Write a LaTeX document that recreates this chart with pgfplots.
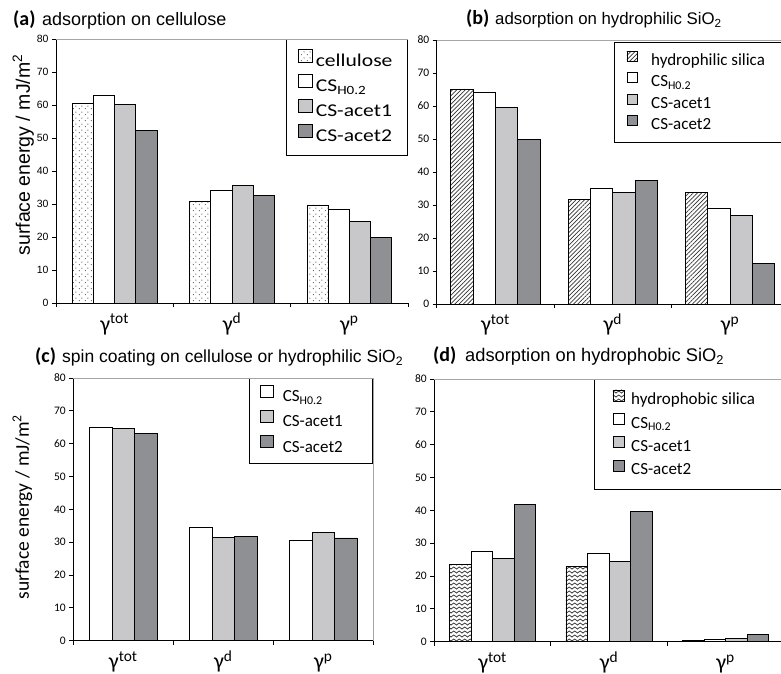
\documentclass[border=0pt]{standalone}
\usepackage{fontspec}
\setmainfont{Carlito}
\newfontfamily\arialf{Liberation Sans}
\newfontfamily\calw[FakeStretch=1.2]{Carlito}
\usepackage{pgfplots}
\pgfplotsset{compat=1.18}
\usetikzlibrary{patterns,patterns.meta}

\definecolor{lightbar}{RGB}{200,200,202}
\definecolor{darkbar}{RGB}{143,144,148}
\definecolor{framec}{RGB}{165,165,165}

\pgfdeclarepattern{
  name=sdots, type=uncolored,
  bottom left={\pgfpoint{0pt}{0pt}}, top right={\pgfpoint{6pt}{6pt}},
  tile size={\pgfpoint{6pt}{6pt}},
  code={\pgfpathcircle{\pgfpoint{1.5pt}{1.5pt}}{0.6pt}\pgfpathcircle{\pgfpoint{4.5pt}{4.5pt}}{0.6pt}\pgfusepath{fill}}
}
\pgfdeclarepattern{
  name=zigz, type=uncolored,
  bottom left={\pgfpoint{-0.6pt}{0pt}}, top right={\pgfpoint{6.1pt}{4pt}},
  tile size={\pgfpoint{5.5pt}{4pt}},
  code={\pgfsetlinewidth{0.75pt}\pgfsetroundcap\pgfsetroundjoin
    \pgfpathmoveto{\pgfpoint{0pt}{1pt}}\pgfpathlineto{\pgfpoint{2.75pt}{3pt}}\pgfpathlineto{\pgfpoint{5.5pt}{1pt}}\pgfusepath{stroke}}
}

\newcommand{\gl}[1]{\fontsize{22}{22}\selectfont γ\textsuperscript{#1}}

\pgfplotsset{
  panel/.style={
    scale only axis, ybar, ymin=0, ymax=80, xmin=-0.5, xmax=2.5, enlargelimits=false,
    axis x line*=bottom, axis y line*=left,
    axis line style={-, black, line width=0.8pt},
    ytick={0,10,...,80},
    xtick={-0.5,0.5,1.5,2.5}, xticklabels={,,,},
    extra x ticks={0,1,2},
    extra x tick labels={{\gl{tot}},{\gl{d}},{\gl{p}}},
    extra x tick style={major tick length=0pt},
    tick align=outside, major tick length=4pt,
    tick style={black, line width=0.8pt},
    xticklabel style={anchor=base, yshift=-28pt},
    /pgf/number format/assume math mode=true,
    yticklabel style={font=\fontsize{11.5}{11.5}\selectfont},
    clip=false, legend cell align=left,
  },
  bw/.style={draw=black, line width=0.8pt, fill=white},
  bl/.style={draw=black, line width=0.8pt, fill=lightbar},
  bd/.style={draw=black, line width=0.8pt, fill=darkbar},
}

\begin{document}
\begin{tikzpicture}
\path[use as bounding box, fill=white] (0pt,0pt) rectangle (781pt,674pt);

% titles
\node[anchor=base west, inner sep=0pt] at (13pt,648pt) {\fontsize{20}{20}\selectfont\bfseries (a)};
\node[anchor=base west, inner sep=0pt] at (42pt,648pt) {\arialf\fontsize{18}{20}\selectfont adsorption on cellulose};
\node[anchor=base west, inner sep=0pt] at (466pt,649pt) {\fontsize{20}{20}\selectfont\bfseries (b)};
\node[anchor=base west, inner sep=0pt] at (495pt,649pt) {\arialf\fontsize{16.8}{20}\selectfont adsorption on hydrophilic SiO\textsubscript{2}};
\node[anchor=base west, inner sep=0pt] at (35pt,311pt) {\fontsize{20}{20}\selectfont\bfseries (c)};
\node[anchor=base west, inner sep=0pt] at (62pt,311pt) {\arialf\fontsize{17.5}{20}\selectfont spin coating on cellulose or hydrophilic SiO\textsubscript{2}};
\node[anchor=base west, inner sep=0pt] at (433pt,312pt) {\fontsize{20}{20}\selectfont\bfseries (d)};
\node[anchor=base west, inner sep=0pt] at (465pt,312pt) {\arialf\fontsize{18.3}{20}\selectfont adsorption on hydrophobic SiO\textsubscript{2}};

% (a)
\begin{axis}[panel, at={(56pt,370.7pt)}, anchor=south west, width=352pt, height=264pt,
  yticklabel style={font=\arialf\fontsize{10.5}{10.5}\selectfont},
  ylabel={surface energy / mJ/m\textsuperscript{2}},
  ylabel style={font=\arialf\fontsize{19.5}{20}\selectfont, at={(axis description cs:-0.093,0.562)}, anchor=center},
  bar width=0.18,
  legend style={at={(1,1)}, anchor=north east, draw=black, line width=1pt, fill=white,
    font=\calw\fontsize{18}{18}\selectfont, inner xsep=12pt, inner ysep=9pt, row sep=3pt,
    nodes={inner xsep=3pt, inner ysep=0pt, text height=13pt, text depth=4.5pt}},
  legend image code/.code={\draw[#1, line width=0.7pt] (0pt,0pt) rectangle (14pt,13pt);},
  extra description/.code={\draw[framec, line width=0.8pt] (0,1) -- (1,1);},
]
\addplot[bw, bar shift=-0.27, postaction={pattern color=black!75, pattern=sdots}] coordinates {(0,60.5) (1,30.9) (2,29.8)};
\addplot[bw, bar shift=-0.09] coordinates {(0,63.0) (1,34.3) (2,28.6)};
\addplot[bl, bar shift=0.09] coordinates {(0,60.3) (1,35.8) (2,24.8)};
\addplot[bd, bar shift=0.27] coordinates {(0,52.4) (1,32.6) (2,19.9)};
\legend{cellulose, CS\textsubscript{H0.2}, CS-acet1, CS-acet2}
\end{axis}

% (b)
\begin{axis}[panel, at={(436.7pt,370pt)}, anchor=south west, width=352pt, height=264pt,
  bar width=0.19,
  legend style={at={(0.5037,0.9924)}, anchor=north west, draw=black, line width=1pt, fill=white,
    font=\fontsize{17}{17}\selectfont, inner xsep=12pt, inner ysep=8.5pt, row sep=2pt,
    nodes={inner xsep=14pt, inner ysep=0pt, text height=12pt, text depth=5pt}},
  legend image code/.code={\draw[#1, line width=0.7pt] (0pt,0.5pt) rectangle (10pt,10.5pt);},
  extra description/.code={\draw[framec, line width=0.8pt] (0,1) -- (1,1) -- (1,0);},
]
\addplot[bw, bar shift=-0.285, postaction={pattern color=black!80, pattern={Lines[angle=45,distance=3pt,line width=0.7pt]}}] coordinates {(0,65.1) (1,31.8) (2,33.7)};
\addplot[bw, bar shift=-0.095] coordinates {(0,64.0) (1,34.9) (2,29.1)};
\addplot[bl, bar shift=0.095] coordinates {(0,59.5) (1,33.7) (2,26.8)};
\addplot[bd, bar shift=0.285] coordinates {(0,49.9) (1,37.5) (2,12.4)};
\legend{\makebox[120pt][l]{hydrophilic silica}, CS\textsubscript{H0.2}, CS-acet1, CS-acet2}
\end{axis}

% (c)
\begin{axis}[panel, at={(73.3pt,33.3pt)}, anchor=south west, width=300pt, height=262.7pt,
  ylabel={surface energy / mJ/m\textsuperscript{2}},
  ylabel style={font=\fontsize{19.5}{20}\selectfont, at={(axis description cs:-0.17,0.509)}, anchor=center},
  bar width=0.225,
  legend style={at={(1,1)}, anchor=north east, draw=black, line width=1pt, fill=white,
    font=\fontsize{17}{17}\selectfont, inner xsep=11pt, inner ysep=6.75pt, row sep=3.5pt,
    nodes={inner xsep=9pt, inner ysep=0pt, text height=12.5pt, text depth=5pt}},
  legend image code/.code={\draw[#1, line width=0.7pt] (0pt,0.5pt) rectangle (13pt,12.5pt);},
  extra description/.code={\draw[framec, line width=0.8pt] (0,1) -- (1,1) -- (1,0);},
]
\addplot[bw, bar shift=-0.225] coordinates {(0,65.0) (1,34.5) (2,30.5)};
\addplot[bl, bar shift=0] coordinates {(0,64.5) (1,31.5) (2,33.1)};
\addplot[bd, bar shift=0.225] coordinates {(0,63.0) (1,31.8) (2,31.3)};
\legend{CS\textsubscript{H0.2}, \makebox[70pt][l]{CS-acet1}, CS-acet2}
\end{axis}

% (d)
\begin{axis}[panel, at={(434.3pt,32.3pt)}, anchor=south west, width=349.5pt, height=262.7pt,
  bar width=0.185,
  legend style={at={(0.457,1)}, anchor=north west, draw=black, line width=1pt, fill=white,
    font=\fontsize{17}{17}\selectfont, inner xsep=18pt, inner ysep=10pt, row sep=3pt,
    nodes={inner xsep=7pt, inner ysep=0pt, text height=12pt, text depth=5pt}},
  legend image code/.code={\draw[#1, line width=0.7pt] (0pt,0.5pt) rectangle (11pt,11.5pt);},
  extra description/.code={\draw[framec, line width=0.8pt] (0,1) -- (1,1) -- (1,0);},
]
\addplot[bw, bar shift=-0.2775, postaction={pattern color=black!80, pattern=zigz}] coordinates {(0,23.5) (1,22.9) (2,0.4)};
\addplot[bw, bar shift=-0.0925] coordinates {(0,27.5) (1,26.8) (2,0.8)};
\addplot[bl, bar shift=0.0925] coordinates {(0,25.4) (1,24.5) (2,1.0)};
\addplot[bd, bar shift=0.2775] coordinates {(0,41.9) (1,39.8) (2,2.2)};
\legend{\makebox[126pt][l]{hydrophobic silica}, CS\textsubscript{H0.2}, CS-acet1, CS-acet2}
\end{axis}
\end{tikzpicture}
\end{document}
